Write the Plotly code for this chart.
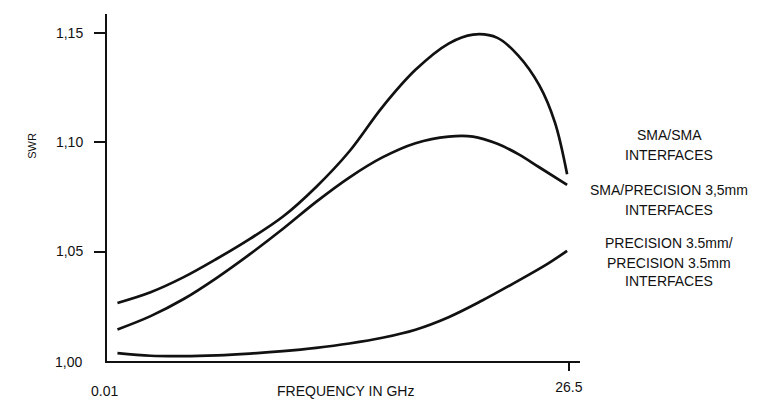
import plotly.graph_objects as go

# ---- data ----
freq_sma_sma = [0.6, 2.5, 4.4, 6.3, 8.2, 10.1, 12.0, 13.9, 15.8, 17.7, 19.6, 21.0, 22.4, 23.6, 24.8, 25.7, 26.4]
swr_sma_sma = [1.0265, 1.0314, 1.0383, 1.0467, 1.0558, 1.0660, 1.0795, 1.0957, 1.1160, 1.1330, 1.1450, 1.1491, 1.1476, 1.1395, 1.1260, 1.1090, 1.0853]

freq_sma_prec = [0.6, 2.5, 4.4, 6.3, 8.2, 10.1, 12.0, 13.9, 15.8, 17.7, 19.6, 21.0, 22.4, 23.6, 24.8, 26.4]
swr_sma_prec = [1.0144, 1.0205, 1.0283, 1.0380, 1.0488, 1.0604, 1.0727, 1.0838, 1.0930, 1.0995, 1.1025, 1.1025, 1.0992, 1.0945, 1.0885, 1.0804]

freq_prec_prec = [0.6, 2.5, 4.4, 6.3, 8.2, 10.1, 12.0, 13.9, 15.8, 17.7, 19.6, 21.5, 23.4, 25.3, 26.4]
swr_prec_prec = [1.0036, 1.0024, 1.0022, 1.0026, 1.0034, 1.0045, 1.0060, 1.0080, 1.0106, 1.0143, 1.0200, 1.0275, 1.0358, 1.0445, 1.0503]

y_tick_vals = [1.05, 1.10, 1.15]
y_tick_text = ["1,05", "1,10", "1,15"]
x_tick_vals = [26.5]
x_tick_text = ["26.5"]

series_labels = [
    ["SMA/SMA", "INTERFACES"],
    ["SMA/PRECISION 3,5mm", "INTERFACES"],
    ["PRECISION 3.5mm/", "PRECISION 3.5mm", "INTERFACES"],
]

# ---- layout geometry (pixels) ----
W, H = 762, 407
L, R, T, B = 107, 580, 14, 367
FONT = "Liberation Sans, Arial, Helvetica, sans-serif"
INK = "#111111"


def px(xp):
    return (xp - L) / (R - L)


def py(yp):
    return (B - yp) / (B - T)


fig = go.Figure()
line_style = dict(color=INK, width=2.7, shape="spline", smoothing=1.0)
for xs, ys, name in [
    (freq_sma_sma, swr_sma_sma, "SMA/SMA"),
    (freq_sma_prec, swr_sma_prec, "SMA/PRECISION"),
    (freq_prec_prec, swr_prec_prec, "PRECISION/PRECISION"),
]:
    fig.add_trace(go.Scatter(x=xs, y=ys, mode="lines", line=line_style, name=name,
                             showlegend=False, hoverinfo="skip"))

annotations = []
# right side labels
label_rows = [[137, 157], [193, 213], [247, 267, 286]]
for lines, rows in zip(series_labels, label_rows):
    for text, yy in zip(lines, rows):
        annotations.append(dict(x=px(669), y=py(yy), xref="paper", yref="paper", text=text,
                                showarrow=False, xanchor="center", yanchor="middle",
                                font=dict(family=FONT, size=14, color=INK)))
# y-axis title
annotations.append(dict(x=px(32), y=py(148), xref="paper", yref="paper", text="SWR",
                        textangle=-90, showarrow=False, xanchor="center", yanchor="middle",
                        font=dict(family=FONT, size=11, color=INK)))
# y label at origin
annotations.append(dict(x=px(84), y=py(368), xref="paper", yref="paper", text="1,00",
                        showarrow=False, xanchor="right", yanchor="middle",
                        font=dict(family=FONT, size=14, color=INK)))
# x label at origin
annotations.append(dict(x=px(104), y=py(398), xref="paper", yref="paper", text="0.01",
                        showarrow=False, xanchor="center", yanchor="middle",
                        font=dict(family=FONT, size=14, color=INK)))
# x-axis title
annotations.append(dict(x=px(345), y=py(398), xref="paper", yref="paper", text="FREQUENCY IN GHz",
                        showarrow=False, xanchor="center", yanchor="middle",
                        font=dict(family=FONT, size=14, color=INK)))

fig.update_layout(
    width=W, height=H,
    margin=dict(l=L, r=W - R, t=T, b=H - B),
    paper_bgcolor="white", plot_bgcolor="white",
    font=dict(family=FONT, size=14, color=INK),
    annotations=annotations,
    xaxis=dict(range=[0, 27.14], tickvals=x_tick_vals, ticktext=x_tick_text,
               ticks="outside", ticklen=8, tickwidth=1.5, tickcolor=INK,
               ticklabelstandoff=4,
               showline=True, linewidth=2, linecolor=INK, showgrid=False, zeroline=False,
               tickfont=dict(family=FONT, size=14, color=INK)),
    yaxis=dict(range=[1.0, 1.1585], tickvals=y_tick_vals, ticktext=y_tick_text,
               ticks="outside", ticklen=11, tickwidth=1.5, tickcolor=INK,
               ticklabelstandoff=8,
               showline=True, linewidth=2, linecolor=INK, showgrid=False, zeroline=False,
               tickfont=dict(family=FONT, size=14, color=INK)),
)

fig.write_html("out.html")
